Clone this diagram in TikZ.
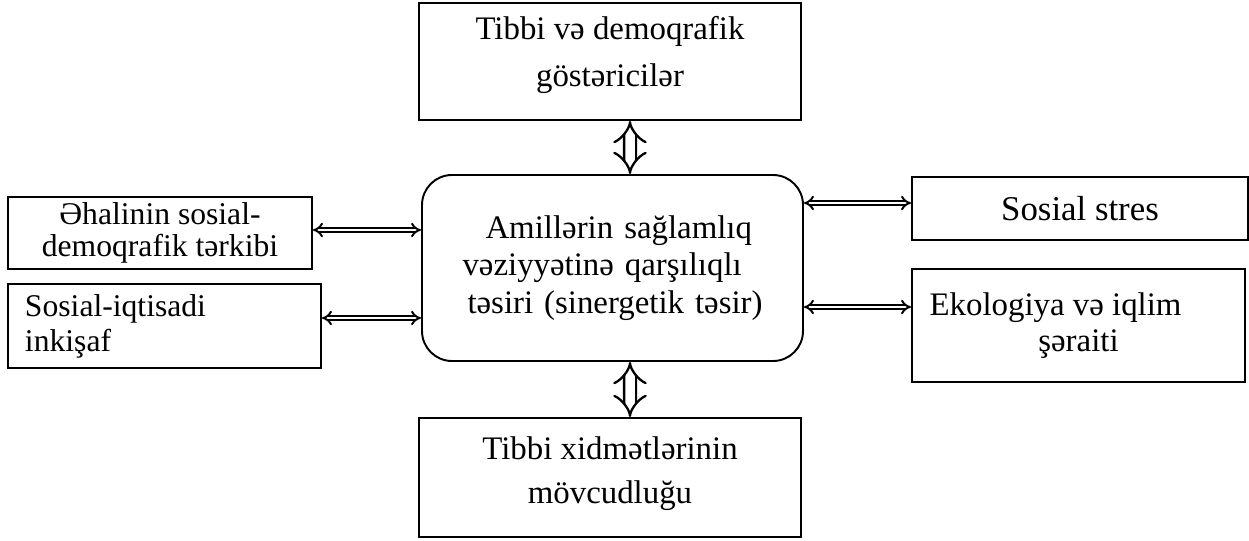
\documentclass[tikz,border=0pt]{standalone}
\usepackage{fontspec}
\setmainfont{Liberation Serif}
\usetikzlibrary{arrows.meta}
\tikzset{
  afbox/.style={draw=black, line width=1.1pt, inner sep=0pt, align=center},
  afcore/.style={afbox, rounded corners=0.6cm},
  afthin/.style={draw=black, double=white, line width=1.1pt, double distance=1.6pt, {Implies}-{Implies}},
  afthick/.style={draw=black, double=white, line width=1.3pt, double distance=5.4pt, {Implies}-{Implies}},
}
\newcommand{\affont}[2]{\fontsize{#1}{#2}\selectfont}

\begin{document}
\begin{tikzpicture}
\useasboundingbox (0,0) rectangle (24.98,-10.8);
% central block
\node[afcore, minimum width=7.62cm, minimum height=3.72cm, text width=5.8cm, align=left, font=\affont{18.7}{21.3}] (amil) at (12.25,-5.36)
  {\hspace*{0.36cm}\makebox[5.34cm][s]{Amillərin sağlamlıq}\\
   \hspace*{-0.1cm}\makebox[5.8cm][s]{vəziyyətinə qarşılıqlı}\\
   \makebox[5.6cm][s]{təsiri (sinergetik təsir)}};
% outer blocks
\node[afbox, minimum width=7.64cm, minimum height=2.34cm, text depth=0.42cm, font=\affont{18.7}{26.7}] (gost) at (12.2,-1.23) {Tibbi və demoqrafik\\göstəricilər};
\node[afbox, minimum width=7.64cm, minimum height=2.38cm, text depth=0.28cm, font=\affont{18.7}{25}] (xidm) at (12.2,-9.55) {Tibbi xidmətlərinin\\mövcudluğu};
\node[afbox, minimum width=6.08cm, minimum height=1.44cm, font=\affont{18}{18.5}] (ehali) at (3.2,-4.66) {Əhalinin sosial-\\demoqrafik tərkibi};
\node[afbox, minimum height=1.68cm, inner xsep=0.34cm, text width=5.58cm, align=left, font=\affont{18}{19.9}] (inkis) at (3.29,-6.52) {Sosial-iqtisadi\\inkişaf};
\node[afbox, minimum width=6.72cm, minimum height=1.26cm, font=\affont{19.8}{21}] (stres) at (21.6,-4.17) {Sosial stres};
\node[afbox, minimum width=6.66cm, minimum height=2.26cm, font=\affont{18.7}{20.4}] (ekol) at (21.57,-6.51) {Ekologiya və iqlim\hspace*{0.92cm}\\şəraiti};
% connectors
\draw[afthick] ([xshift=0.4cm]gost.south) -- ([xshift=0.35cm]amil.north);
\draw[afthick] ([xshift=0.35cm]amil.south) -- ([xshift=0.4cm]xidm.north);
\coordinate (p1) at ([yshift=0.06cm]ehali.east);
\coordinate (p2) at ([yshift=0.16cm]inkis.east);
\coordinate (p3) at ([yshift=0.11cm]stres.west);
\coordinate (p4) at ([yshift=0.37cm]ekol.west);
\draw[afthin] (p1) -- (p1 -| amil.west);
\draw[afthin] (p2) -- (p2 -| amil.west);
\draw[afthin] (p3 -| amil.east) -- (p3);
\draw[afthin] (p4 -| amil.east) -- (p4);
\end{tikzpicture}
\end{document}
